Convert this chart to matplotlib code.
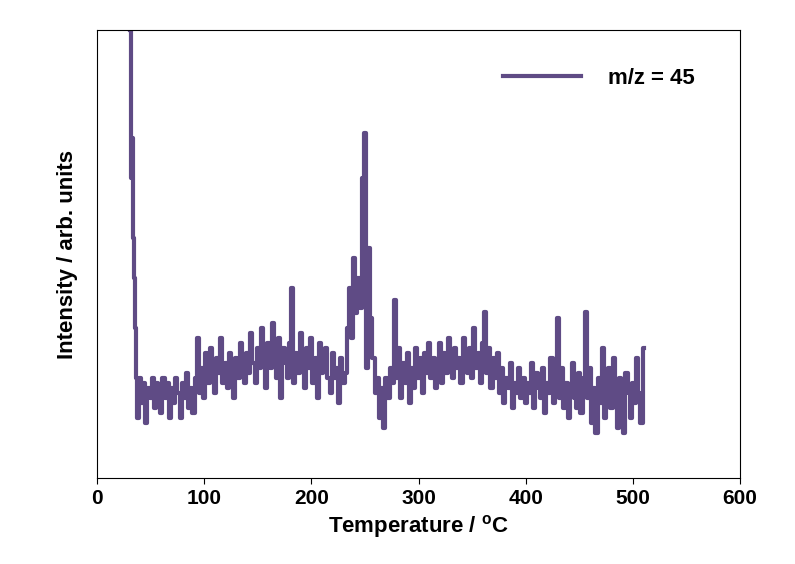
import numpy as np
import matplotlib
matplotlib.use("Agg")
import matplotlib.pyplot as plt

plt.rcParams["font.family"] = "Liberation Sans"
plt.rcParams["font.weight"] = "bold"

temp_start = [31, 32, 33, 34, 35, 36, 37]
int_start = [448, 300, 340, 240, 200, 150, 100]
int_main = [
    60,100,75,95,55,90,80,100,70,95,
    85,65,100,80,95,60,90,75,100,85,
    60,95,80,105,70,90,65,100,140,85,
    110,80,125,95,130,100,85,120,105,140,
    95,115,90,125,105,80,120,100,135,110,
    95,125,105,145,115,95,130,110,150,120,
    90,135,110,155,125,100,140,80,130,115,
    100,135,190,95,125,105,145,115,90,130,
    110,140,95,120,80,135,105,115,130,100,
    85,125,100,110,75,120,95,105,150,190,
    140,220,165,200,170,300,345,110,230,160,
    120,85,100,60,90,50,100,80,110,95,
    178,100,130,80,115,95,125,75,110,90,
    130,100,120,85,125,105,135,100,120,90,
    110,135,95,125,105,140,115,100,130,110,
    120,95,140,115,105,130,100,150,110,125,
    95,135,166,105,130,90,120,100,125,85,
    110,75,100,90,115,70,95,85,110,80,
    100,75,95,85,115,70,105,90,80,110,
    65,95,85,120,75,100,160,80,110,70,
    95,60,90,115,80,70,105,65,100,166,
    80,110,55,90,45,100,75,130,60,95,
    110,70,120,90,50,100,80,45,105,85,
    60,95,75,120,85,55,130,
]
temp_main = list(range(38, 38 + 2 * len(int_main), 2))
temperature = temp_start + temp_main
intensity = int_start + int_main

fig = plt.figure(figsize=(7.95, 5.64), dpi=100)
ax = fig.add_axes([0.122, 0.152, 0.809, 0.795])
ax.plot(temperature, intensity, color="#5f4b85", lw=3, drawstyle="steps-mid",
        label="m/z = 45")
ax.set_xlim(0, 600)
ax.set_ylim(0, 448)
ax.set_yticks([])
ax.set_xticks([0, 100, 200, 300, 400, 500, 600])
ax.tick_params(axis="x", labelsize=15, length=4)
for lab in ax.get_xticklabels():
    lab.set_fontweight("bold")
ax.set_xlabel("Temperature / $\\mathregular{^{o}}$C", fontsize=16, fontweight="bold")
ax.set_ylabel("Intensity / arb. units", fontsize=16, fontweight="bold", labelpad=14)
leg = ax.legend(loc="upper right", frameon=False, fontsize=16, handlelength=3.5,
                handletextpad=1.2, bbox_to_anchor=(0.96, 0.96))
for t in leg.get_texts():
    t.set_fontweight("bold")
fig.savefig("out.png", dpi=100)
